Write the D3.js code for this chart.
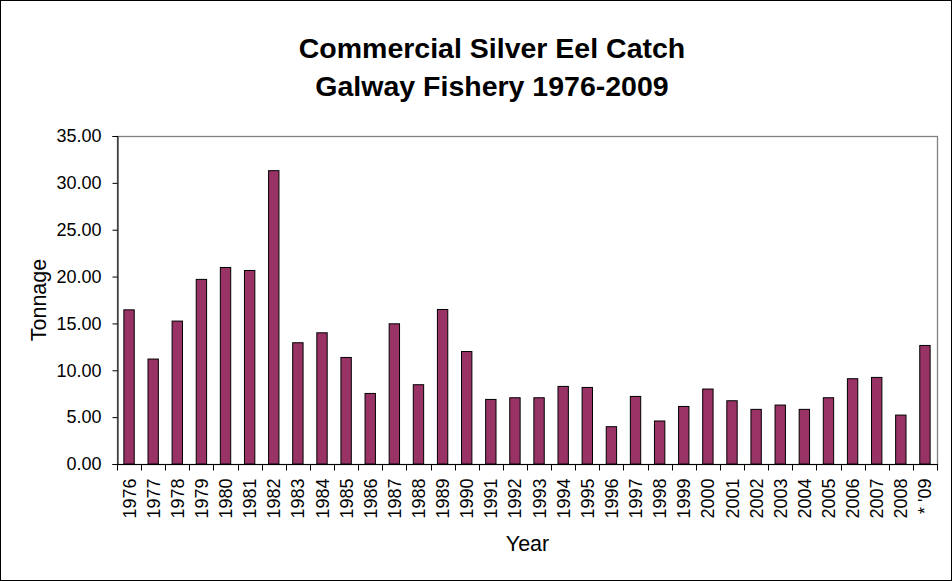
<!DOCTYPE html>
<html>
<head>
<meta charset="utf-8">
<script src="https://cdn.jsdelivr.net/npm/d3@7"></script>
<style>
  html, body { margin: 0; padding: 0; background: #fff; }
  svg { display: block; }
  text { font-family: Arial, "Liberation Sans", sans-serif; fill: #000; }
</style>
</head>
<body>
<svg id="chart" width="952" height="581"></svg>
<script>
const years = ["1976","1977","1978","1979","1980","1981","1982","1983","1984","1985",
  "1986","1987","1988","1989","1990","1991","1992","1993","1994","1995",
  "1996","1997","1998","1999","2000","2001","2002","2003","2004","2005",
  "2006","2007","2008","* '09"];
const tonnage = [16.45, 11.2, 15.25, 19.7, 20.97, 20.65, 31.3, 12.94, 14.0, 11.37,
  7.53, 14.96, 8.46, 16.49, 12.0, 6.89, 7.07, 7.07, 8.28, 8.17,
  3.98, 7.21, 4.59, 6.14, 8.0, 6.75, 5.83, 6.29, 5.83, 7.07,
  9.1, 9.24, 5.22, 12.65];
const yTicks = [0, 5, 10, 15, 20, 25, 30, 35];
const titleLines = ["Commercial Silver Eel Catch", "Galway Fishery 1976-2009"];
const xTitle = "Year";
const yTitle = "Tonnage";

const W = 952, H = 581;
const m = { left: 117, top: 136, right: 937, bottom: 464 };
const svg = d3.select("#chart");

// outer border
svg.append("rect").attr("x", 0.5).attr("y", 0.5).attr("width", W - 1).attr("height", H - 1)
  .attr("fill", "#fff").attr("stroke", "#000").attr("stroke-width", 1);

const x = d3.scaleBand().domain(years).range([m.left, m.right]).padding(0);
const y = d3.scaleLinear().domain([0, 35]).range([m.bottom, m.top]);

// plot area border (gray)
svg.append("rect").attr("x", m.left + 0.5).attr("y", m.top + 0.5)
  .attr("width", m.right - m.left).attr("height", m.bottom - m.top)
  .attr("fill", "none").attr("stroke", "#808080").attr("stroke-width", 1.3);

// bars
const bw = x.bandwidth() * 0.43;
svg.append("g").selectAll("rect").data(years).join("rect")
  .attr("x", (d) => x(d) + x.bandwidth() / 2 - bw / 2)
  .attr("y", (d, i) => y(tonnage[i]))
  .attr("width", bw)
  .attr("height", (d, i) => y(0) - y(tonnage[i]))
  .attr("fill", "#993366")
  .attr("stroke", "#000").attr("stroke-width", 1);

// y axis
const yAxis = d3.axisLeft(y).tickValues(yTicks).tickFormat(d3.format(".2f")).tickSize(5).tickPadding(11);
const gy = svg.append("g").attr("transform", `translate(${m.left + 0.5},0)`).call(yAxis);
gy.select(".domain").attr("stroke", "#000");
gy.selectAll("line").attr("stroke", "#000");
gy.selectAll("text").attr("font-size", 18).attr("font-family", "Arial, 'Liberation Sans', sans-serif");

// x axis
const gx = svg.append("g").attr("transform", `translate(0,${m.bottom + 0.5})`);
gx.append("line").attr("x1", m.left).attr("x2", m.right + 1).attr("y1", 0).attr("y2", 0).attr("stroke", "#000");
const bounds = years.map((d) => x(d)).concat([m.right]);
gx.selectAll("line.tk").data(bounds).join("line").attr("class", "tk")
  .attr("x1", (d) => Math.round(d) + 0.5).attr("x2", (d) => Math.round(d) + 0.5)
  .attr("y1", 0).attr("y2", 6).attr("stroke", "#000");
gx.selectAll("text").data(years).join("text")
  .attr("transform", (d) => `translate(${x(d) + x.bandwidth() / 2 + 6.5},14) rotate(-90)`)
  .attr("text-anchor", "end")
  .attr("font-size", 18)
  .text((d) => d);

// titles
svg.append("g").selectAll("text").data(titleLines).join("text")
  .attr("x", 492)
  .attr("y", (d, i) => 58 + i * 38)
  .attr("text-anchor", "middle")
  .attr("font-size", 28.5).attr("font-weight", "bold")
  .text((d) => d);

svg.append("text").attr("x", 527.5).attr("y", 551)
  .attr("text-anchor", "middle").attr("font-size", 21.5).text(xTitle);

svg.append("text").attr("transform", `translate(46,${(m.top + m.bottom) / 2}) rotate(-90)`)
  .attr("text-anchor", "middle").attr("font-size", 21.5).text(yTitle);
</script>
</body>
</html>
